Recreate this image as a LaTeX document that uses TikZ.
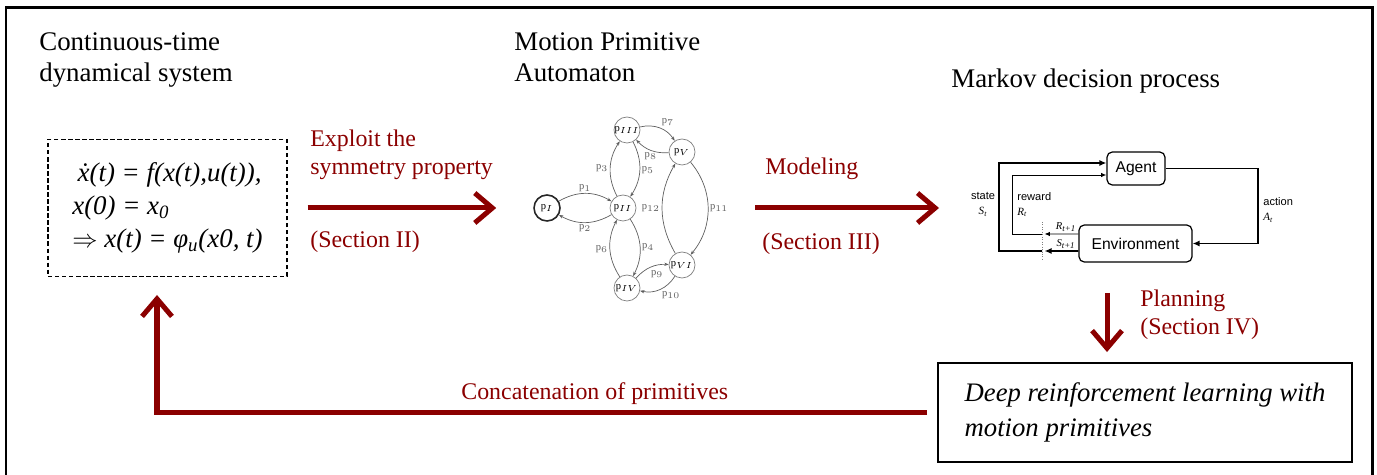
\documentclass[tikz,border=0pt]{standalone}
\usepackage{fontspec}
\setmainfont{Liberation Serif}
\newfontfamily\mdpsans{Liberation Sans}
\usetikzlibrary{arrows.meta,positioning}

\definecolor{flowred}{RGB}{139,0,0}
\definecolor{autogray}{RGB}{95,95,95}

\tikzset{
  flow/.style={line width=2.85pt, flowred, -{Straight Barb[length=10pt,width=17pt]}},
  steplabel/.style={text=flowred, font=\fontsize{13.6}{16}\selectfont, inner sep=0pt, anchor=base west, align=left},
  heading/.style={font=\fontsize{15.3}{18.2}\selectfont, inner sep=0pt, anchor=base west, align=left},
  state/.style={circle, draw=autogray!80, minimum size=0.52cm, inner sep=0pt, font=\fontsize{6}{7}\selectfont},
  trans/.style={autogray, line width=0.4pt, -{Stealth[length=2.5pt]}},
  lbl/.style={font=\fontsize{6}{7}\selectfont, inner sep=1pt, text=autogray},
  mdpbox/.style={draw, rounded corners=3pt, line width=0.7pt, font=\mdpsans\fontsize{8.9}{10}\selectfont},
  mdpthick/.style={line width=1.1pt, -{Latex[length=4pt,width=3.5pt]}},
  mdpthin/.style={line width=0.5pt, -{Latex[length=3pt,width=2.5pt]}},
  mdplbl/.style={inner sep=0pt, font=\mdpsans\fontsize{6.3}{8.5}\selectfont},
}

\begin{document}
\begin{tikzpicture}
\useasboundingbox (0,0) rectangle (27.54,9.5);

% outer frame, open at the bottom
\draw[line width=1.7pt] (0.12,0) -- (0.12,9.34) -- (27.44,9.34) -- (27.44,0);

% headings (base = last line)
\node[heading] (dyntitle) at (0.78,7.86) {Continuous-time\\dynamical system};
\node[heading] (mpatitle) at (10.28,7.86) {Motion Primitive\\Automaton};
\node[heading] (mdptitle) at (19.02,7.74) {Markov decision process};

% dynamical system
\node[draw, dash pattern=on 2.5pt off 1.5pt, line width=0.8pt, minimum width=4.78cm, minimum height=2.74cm,
      align=left, font=\fontsize{15.3}{18.8}\selectfont\itshape] (dyn) at (3.35,5.34)
  {\hspace{0.2em}ẋ(t) = f(x(t),u(t)),\\x(0) = x\textsubscript{0}\\$\Rightarrow$ x(t) = φ\textsubscript{u}(x0, t)};

% motion primitive automaton
\node[state, draw=black!85, line width=0.9pt] (pI) at (10.94,5.34) {$\mathrm{p}_{I}$};
\node[state] (pII)  at (12.46,5.34) {$\mathrm{p}_{II}$};
\node[state] (pIII) at (12.54,6.90) {$\mathrm{p}_{III}$};
\node[state] (pIV)  at (12.54,3.74) {$\mathrm{p}_{IV}$};
\node[state] (pV)   at (13.64,6.46) {$\mathrm{p}_{V}$};
\node[state] (pVI)  at (13.64,4.20) {$\mathrm{p}_{VI}$};

\draw[trans] (pI) to[bend left=30] node[lbl,above] {$\mathrm{p}_1$} (pII);
\draw[trans] (pII) to[bend left=30] node[lbl,below] {$\mathrm{p}_2$} (pI);
\draw[trans] (pII) to[bend left=30] node[lbl,left] {$\mathrm{p}_3$} (pIII);
\draw[trans] (pIII) to[bend left=30] node[lbl,right] {$\mathrm{p}_5$} (pII);
\draw[trans] (pII) to[bend left=30] node[lbl,right] {$\mathrm{p}_4$} (pIV);
\draw[trans] (pIV) to[bend left=30] node[lbl,left] {$\mathrm{p}_6$} (pII);
\draw[trans] (pIII) to[bend left=35] node[lbl,above right] {$\mathrm{p}_7$} (pV);
\draw[trans] (pV) to[bend left=25] node[lbl,below] {$\mathrm{p}_8$} (pIII);
\draw[trans] (pIV) to[bend left=25] node[lbl,below right,pos=0.45] {$\mathrm{p}_9$} (pVI);
\draw[trans] (pVI) to[bend left=35] node[lbl,below right] {$\mathrm{p}_{10}$} (pIV);
\draw[trans] (pV) to[bend left=40] node[lbl,right] {$\mathrm{p}_{11}$} (pVI);
\draw[trans] (pVI) to[bend left=30] node[lbl,left] {$\mathrm{p}_{12}$} (pV);

% markov decision process
\node[mdpbox, minimum width=1.16cm, minimum height=0.66cm] (agent) at (22.72,6.13) {Agent};
\node[mdpbox, minimum width=2.26cm, minimum height=0.74cm] (env) at (22.71,4.63) {Environment};

\coordinate (cutS) at (20.84,4.48);
\coordinate (cutR) at (20.84,4.82);
\coordinate (stateup) at (19.98,6.24);
\coordinate (rewardup) at (20.24,6.00);
\coordinate (actdown) at (25.16,6.13);

\draw[gray, densely dotted, line width=0.4pt] (20.84,5.06) -- (20.84,4.30);

\draw[mdpthick] (agent.east) -- (actdown) |- (env.east);
\draw[mdpthick] ([yshift=-0.15cm]env.west) -- ([xshift=0.05cm]cutS);
\draw[mdpthick] (cutS) -| (stateup) -- ([yshift=0.11cm]agent.west);
\draw[mdpthin] ([yshift=0.19cm]env.west) -- ([xshift=0.05cm]cutR);
\draw[mdpthin] (cutR) -| (rewardup) -- ([yshift=-0.13cm]agent.west);

\node[mdplbl, align=center] (statelbl) at (19.66,5.41) {state\\\textit{\fontspec{Liberation Serif}S\textsubscript{t}}};
\node[mdplbl, align=left, anchor=west] (rewardlbl) at (20.34,5.41) {reward\\\textit{\fontspec{Liberation Serif}R\textsubscript{t}}};
\node[mdplbl, align=left, anchor=west] (actionlbl) at (25.26,5.30) {action\\\textit{\fontspec{Liberation Serif}A\textsubscript{t}}};
\node[inner sep=0pt, font=\fontsize{6}{7}\selectfont\itshape] (rnext) at (21.32,4.96) {R\textsubscript{t+1}};
\node[inner sep=0pt, font=\fontsize{6}{7}\selectfont\itshape] (snext) at (21.32,4.62) {S\textsubscript{t+1}};

% learning box
\node[draw, line width=1.1pt, minimum width=8.28cm, minimum height=1.98cm, align=left,
      font=\fontsize{15.2}{20}\selectfont\itshape] (drl) at (22.90,1.25)
  {Deep reinforcement learning with\\motion primitives};

% red flow arrows and their labels
\coordinate (modstart) at (15.10,5.34);
\coordinate (modend) at (18.78,5.34);
\coordinate (plantop) at (22.14,3.64);
\coordinate (backtip) at (3.14,3.60);

\draw[flow, shorten <=0.4cm, shorten >=0.74cm] (dyn.east) -- (pI.west);
\draw[flow] (modstart) -- (modend);
\draw[flow, shorten >=0.2cm] (plantop) -- (plantop |- drl.north);
\draw[flow] ([xshift=-0.2cm]drl.west) -| (backtip);

\node[steplabel] (exploit) at (6.20,6.00) {Exploit the\\symmetry property};
\node[steplabel] (sec2) at (6.20,4.54) {(Section II)};
\node[steplabel] (modeling) at (15.30,6.00) {Modeling};
\node[steplabel] (sec3) at (15.24,4.50) {(Section III)};
\node[steplabel] (planning) at (22.80,2.80) {Planning\\(Section IV)};
\node[steplabel] (concat) at (9.22,1.50) {Concatenation of primitives};

\end{tikzpicture}
\end{document}
